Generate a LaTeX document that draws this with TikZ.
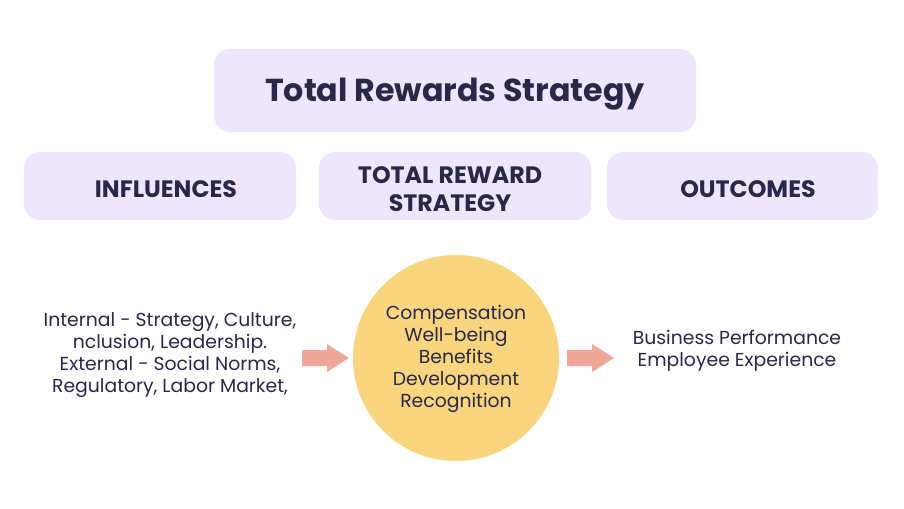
\documentclass[tikz,border=0pt]{standalone}
\usepackage{fontspec}
\setmainfont{Poppins}
\begin{document}
\begin{tikzpicture}[x=0.75pt,y=-0.75pt,
  box/.style={fill=boxfill,rounded corners=12pt,draw=none},
  hdr/.style={font=\bfseries\fontsize{17.8}{21}\selectfont,text=ink,align=center},
  body/.style={font=\fontsize{14.1}{16.5}\selectfont,text=ink,align=center},
  blockarrow/.style={fill=arrowfill,draw=none}]
\definecolor{boxfill}{HTML}{EDE6FD}
\definecolor{ink}{HTML}{2A2848}
\definecolor{circfill}{HTML}{F8D57E}
\definecolor{arrowfill}{HTML}{EFA79A}
\useasboundingbox (0,0) rectangle (904,508);
\fill[white] (0,0) rectangle (904,508);
% title
\fill[box] (214,49) rectangle (696,132);
\node[font=\bfseries\fontsize{23.8}{28}\selectfont,text=ink] (title) at (455,94) {Total Rewards Strategy};
% headers
\fill[box] (24,152) rectangle (296,220);
\node[hdr] (infl) at (166,189) {INFLUENCES};
\fill[box] (319,152) rectangle (591,220);
\node[hdr] (trs) at (450,189) {TOTAL REWARD\\STRATEGY};
\fill[box] (607,152) rectangle (878,220);
\node[hdr] (outc) at (748,189) {OUTCOMES};
% circle
\node[circle,fill=circfill,minimum size=206*0.75pt,inner sep=0pt] (circ) at (456,358) {};
\node[body] (circtext) at (456,359) {Compensation\\Well-being\\Benefits\\Development\\Recognition};
% left text
\node[body] (left) at (170,355.5) {Internal - Strategy, Culture,\\nclusion, Leadership.\\External - Social Norms,\\Regulatory, Labor Market,};
% right text
\node[body] (right) at (737,351) {Business Performance\\Employee Experience};
% arrows
\coordinate (la) at (302,358);
\coordinate (ra) at (567,358);
\fill[blockarrow] (la) ++(0,-8) -- ++(25,0) -- ++(0,-6) -- ++(22,14) -- ++(-22,14) -- ++(0,-6) -- ++(-25,0) -- cycle;
\fill[blockarrow] (ra) ++(0,-8) -- ++(25,0) -- ++(0,-6) -- ++(22,14) -- ++(-22,14) -- ++(0,-6) -- ++(-25,0) -- cycle;
\end{tikzpicture}
\end{document}
